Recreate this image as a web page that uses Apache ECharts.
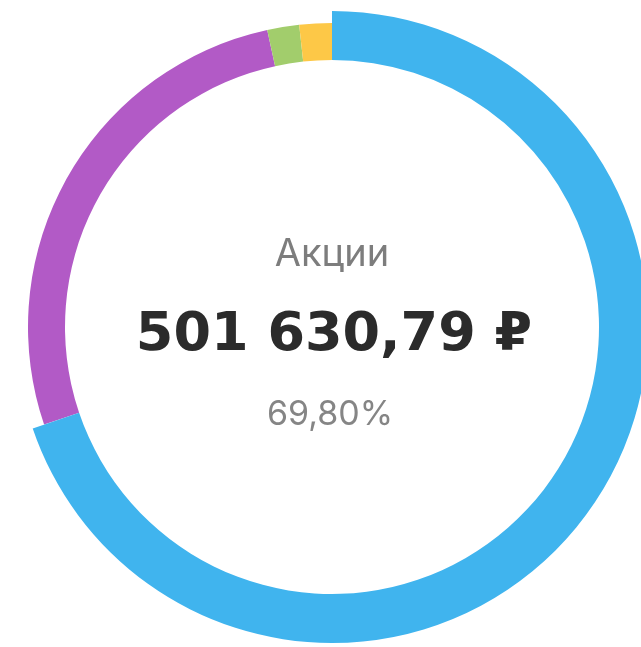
<!DOCTYPE html>
<html>
<head>
<meta charset="utf-8">
<script src="https://cdn.jsdelivr.net/npm/echarts@6/dist/echarts.min.js"></script>
<style>
  html, body { margin: 0; padding: 0; background: #ffffff; }
  #chart { width: 641px; height: 647px; }
</style>
</head>
<body>
<div id="chart"></div>
<script>
// Portfolio structure by asset class
const categories = ['Акции', 'Облигации', 'Фонды', 'Валюта'];
const amounts = [501630.79, 192480.00, 12190.00, 12370.00];
const colors = ['#40b4ee', '#b25ac6', '#a2cd6c', '#fdc847'];
const activeIndex = 0;

const fmtMoney = v => {
  const parts = v.toFixed(2).split('.');
  const intPart = parts[0].replace(/\B(?=(\d{3})+(?!\d))/g, ' ');
  return intPart + ',' + parts[1] + ' ₽';
};
const total = amounts.reduce((a, b) => a + b, 0);
const fmtPct = v => (v / total * 100).toFixed(2).replace('.', ',') + '%';

const cx = 332, cy = 327;

const chart = echarts.init(document.getElementById('chart'), null, { renderer: 'canvas' });
chart.setOption({
  animation: false,
  backgroundColor: '#ffffff',
  series: [{
    type: 'pie',
    center: [cx, cy],
    radius: [267, 304],
    startAngle: 90,
    clockwise: true,
    avoidLabelOverlap: false,
    label: { show: false },
    labelLine: { show: false },
    emphasis: { scale: true, scaleSize: 12, label: { show: false } },
    data: categories.map((name, i) => ({
      name,
      value: amounts[i],
      itemStyle: { color: colors[i], borderWidth: 0 },
      emphasis: { itemStyle: { color: colors[i] } }
    }))
  }],
  graphic: [
    {
      type: 'text', x: cx, y: 255,
      style: {
        text: categories[activeIndex], align: 'center', verticalAlign: 'middle',
        font: '400 38px Inter, "Noto Sans", sans-serif', fill: '#7d7d7d'
      }
    },
    {
      type: 'text', x: cx + 2, y: 336,
      style: {
        text: fmtMoney(amounts[activeIndex]), align: 'center', verticalAlign: 'middle',
        font: '700 54px "DejaVu Sans", sans-serif', fill: '#2b2b2b'
      }
    },
    {
      type: 'text', x: cx - 2, y: 415,
      style: {
        text: fmtPct(amounts[activeIndex]), align: 'center', verticalAlign: 'middle',
        font: '400 34px Inter, Roboto, sans-serif', fill: '#858585'
      }
    }
  ]
});
chart.dispatchAction({ type: 'highlight', seriesIndex: 0, dataIndex: activeIndex });
</script>
</body>
</html>
